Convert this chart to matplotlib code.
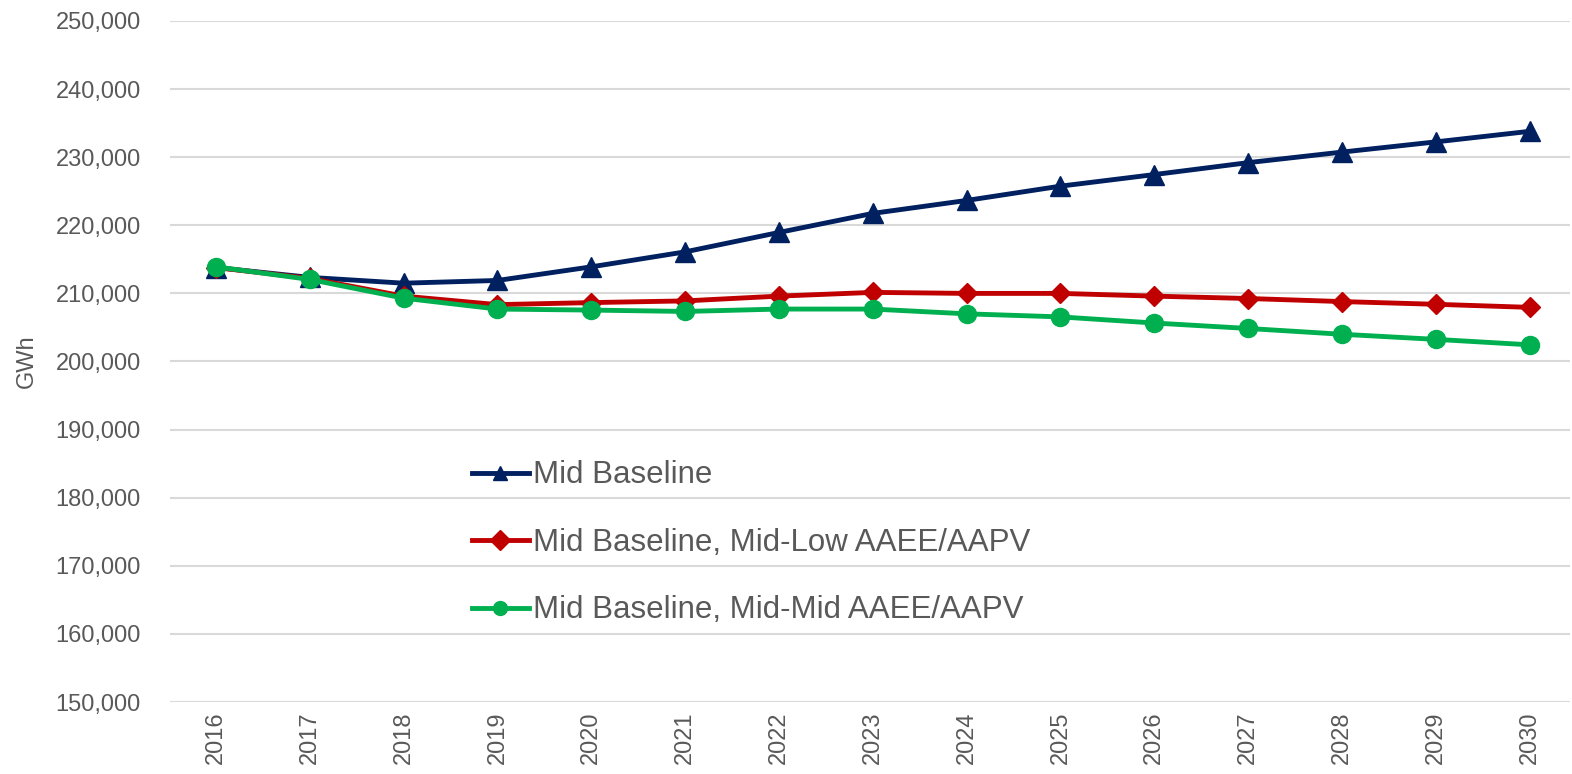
import numpy as np
import matplotlib.pyplot as plt
from matplotlib.ticker import FuncFormatter, MultipleLocator

plt.rcParams['font.family'] = ['Liberation Sans', 'DejaVu Sans']

years = [str(y) for y in range(2016, 2031)]

mid_baseline = [213800, 212350, 211500, 211900, 213900, 216100, 218950, 221750,
                223650, 225750, 227450, 229200, 230750, 232250, 233800]
mid_low = [213800, 212200, 209600, 208350, 208650, 208900, 209600, 210150,
           210000, 210000, 209600, 209250, 208800, 208400, 207950]
mid_mid = [213900, 212050, 209300, 207700, 207550, 207350, 207700, 207700,
           207000, 206550, 205650, 204850, 204000, 203250, 202450]

labels = ['Mid Baseline',
          'Mid Baseline, Mid-Low AAEE/AAPV',
          'Mid Baseline, Mid-Mid AAEE/AAPV']

text_col = '#595959'

fig = plt.figure(figsize=(15.72, 7.74), dpi=100)
ax = fig.add_axes([170 / 1572, 72 / 774, 1400 / 1572, 681 / 774])

x = np.arange(len(years))
ax.plot(x, mid_baseline, color='#002060', lw=3.5, marker='^', ms=14, label=labels[0], zorder=3)
ax.plot(x, mid_low, color='#C00000', lw=3.5, marker='D', ms=10, label=labels[1], zorder=4)
ax.plot(x, mid_mid, color='#00B050', lw=3.5, marker='o', ms=13, label=labels[2], zorder=5)

ax.set_ylim(150000, 250000)
ax.set_xlim(-0.49, 14.43)
ax.yaxis.set_major_locator(MultipleLocator(10000))
ax.yaxis.set_major_formatter(FuncFormatter(lambda v, p: f'{int(v):,}'))
ax.set_xticks(x)
ax.set_xticklabels(years, rotation=90)
ax.grid(axis='y', color='#D9D9D9', lw=1.5)
ax.set_axisbelow(True)
for s in ax.spines.values():
    s.set_visible(False)
ax.tick_params(axis='both', length=0, labelsize=17, colors=text_col)
ax.tick_params(axis='y', pad=21)
ax.tick_params(axis='x', pad=7)
ax.set_ylabel('GWh', fontsize=17, color=text_col)
ax.yaxis.set_label_coords((38 - 170) / 1400, 0.5)

leg = ax.legend(loc='upper left', bbox_to_anchor=(0.207, 0.373),
                frameon=False, fontsize=22.5, labelspacing=1.2, handlelength=1.8,
                handletextpad=0.13, borderaxespad=0)
for t in leg.get_texts():
    t.set_color(text_col)
for h in leg.get_lines():
    h.set_markersize(10)

fig.savefig('out.png', dpi=100)
